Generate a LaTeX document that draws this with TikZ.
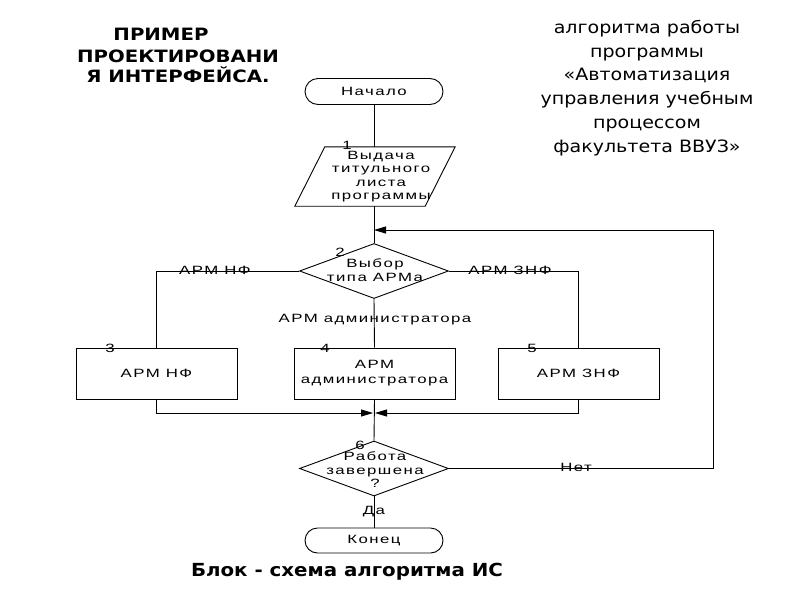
\documentclass[tikz,border=0pt]{standalone}
\usepackage{fontspec}
\setmainfont{Liberation Sans}
\newfontfamily\titlefont[FakeStretch=1.16]{DejaVu Sans}
\newfontfamily\rtfont[FakeStretch=1.12]{DejaVu Sans}
\newfontfamily\capfont[FakeStretch=1.1]{DejaVu Sans}
\newfontfamily\diafont[FakeStretch=1.4,LetterSpace=12]{Liberation Sans}
\usetikzlibrary{shapes.geometric,shapes.misc,arrows.meta}
\tikzset{
  ln/.style={line width=0.9pt},
  arr/.style={line width=0.9pt,-{Triangle[length=12pt,width=7pt]}},
  term/.style={rounded rectangle,draw,line width=0.9pt,minimum width=138,minimum height=26,inner sep=0pt,font=\diafont\fontsize{12}{13.5}\selectfont},
  blk/.style={rectangle,draw,line width=0.9pt,minimum width=161,minimum height=51,inner sep=0pt,align=center,font=\diafont\fontsize{12}{15}\selectfont},
  dia/.style={diamond,draw,line width=0.9pt,minimum width=149,minimum height=55,inner sep=0pt},
  txt/.style={align=center,inner sep=0pt,font=\diafont\fontsize{12}{13.5}\selectfont},
  num/.style={inner sep=0pt,font=\diafont\fontsize{12}{13.5}\selectfont},
  ttl/.style={inner sep=0pt,anchor=base,font=\titlefont\bfseries\fontsize{17}{20}\selectfont}
}
\begin{document}
\begin{tikzpicture}[x=1pt,y=-1pt]
\useasboundingbox[fill=white] (0,0) rectangle (800,600);
% titles
\node[ttl] (t1) at (161,40.7) {ПРИМЕР};
\node[ttl] (t2) at (178,62) {ПРОЕКТИРОВАНИ};
\node[ttl] (t3) at (178,82) {Я ИНТЕРФЕЙСА.};
\node[align=center,inner sep=0pt,font=\rtfont\fontsize{17}{23.7}\selectfont] (rt) at (647,88)
  {алгоритма работы\\программы\\«Автоматизация\\управления учебным\\процессом\\факультета ВВУЗ»};
\node[inner sep=0pt,anchor=base,font=\capfont\bfseries\fontsize{18}{20}\selectfont] (cap) at (347,576) {Блок - схема алгоритма ИС};
% flowchart
\node[term] (start) at (374,91.5) {Начало};
\node[inner sep=0pt,minimum width=130,minimum height=59] (p1) at (375,176.5) {};
\draw[ln] ([xshift=15pt]p1.north west) -- ([xshift=15pt]p1.north east) -- ([xshift=-15pt]p1.south east) -- ([xshift=-15pt]p1.south west) -- cycle;
\node[txt] (p1t) at (381,176.5) {Выдача\\титульного\\листа\\программы};
\node[num] (n1) at (347,145) {1};
\node[dia] (d2) at (374,271) {};
\node[txt] (d2t) at (375,270) {Выбор\\типа АРМа};
\node[num] (n2) at (340,252) {2};
\node[blk] (b3) at (156.5,373.5) {АРМ НФ};
\node[blk] (b4) at (374.5,373.5) {АРМ\\администратора};
\node[blk] (b5) at (578.5,373.5) {АРМ ЗНФ};
\node[num] (n3) at (110,348) {3};
\node[num] (n4) at (325,348) {4};
\node[num] (n5) at (532,348) {5};
\node[dia] (d6) at (374,468.5) {};
\node[txt] (d6t) at (375,470) {Работа\\завершена\\?};
\node[num] (n6) at (360,445) {6};
\node[term,minimum height=25] (end) at (374,540.5) {Конец};
\coordinate (j) at (374,230);
\coordinate (m) at (374,413);
% connectors
\draw[ln] (start.south) -- (start.south |- p1.north);
\draw[ln] (start.south |- p1.south) -- (d2.north);
\draw[ln] (d2.west) -| (b3.north);
\draw[ln] (d2.east) -| (b5.north);
\draw[ln] (d2.south) -- (b4.north);
\draw[arr] (b3.south) |- ([xshift=-1pt]m);
\draw[arr] (b5.south) |- ([xshift=1pt]m);
\draw[ln] (b4.south) -- (d6.north);
\draw[ln] (d6.south) -- (end.north);
\draw[arr] (d6.east) -- (713,468.5) |- (j);
% labels
\node[txt] (l1) at (215,270) {АРМ НФ};
\node[txt] (l2) at (510,270) {АРМ ЗНФ};
\node[txt] (l3) at (375,320) {АРМ администратора};
\node[txt] (l4) at (374,512) {Да};
\node[txt] (l5) at (576,467) {Нет};
\end{tikzpicture}
\end{document}
